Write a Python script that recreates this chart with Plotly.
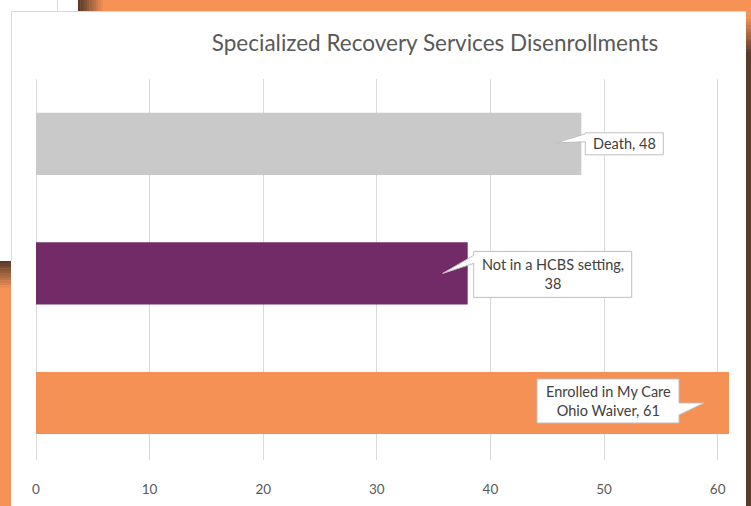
import plotly.graph_objects as go

# ---------------- data ----------------
categories = ["Enrolled in My Care Ohio Waiver", "Not in a HCBS setting", "Death"]
values = [61, 38, 48]
bar_colors = ["#F69155", "#722B66", "#C9C9C9"]
label_texts = ["Enrolled in My Care<br>Ohio Waiver, 61", "Not in a HCBS setting,<br>38", "Death, 48"]
x_ticks = [0, 10, 20, 30, 40, 50, 60]
title_text = "Specialized Recovery Services Disenrollments"

# ---------------- layout geometry ----------------
FIG_W, FIG_H = 751, 506
M_L, M_R, M_T, M_B = 36, 22, 79, 46
X_RANGE = [0, 61]
Y_RANGE = [-0.44, 2.5]
PW = FIG_W - M_L - M_R
PH = FIG_H - M_T - M_B
PX_X = PW / (X_RANGE[1] - X_RANGE[0])
PX_Y = PH / (Y_RANGE[1] - Y_RANGE[0])
FONT = "Lato, 'Open Sans', sans-serif"
TITLE_FONT = "Lato, 'Open Sans', sans-serif"

ypos = list(range(len(categories)))

fig = go.Figure(go.Bar(
    x=values, y=ypos, orientation="h",
    marker=dict(color=bar_colors, line=dict(width=0)),
    width=0.48, hoverinfo="skip", showlegend=False,
))

# ---------------- callouts (pixel offsets from bar end, y pointing down) ----------------
callout_geom = [
    dict(box=(-192, -50, -24, 20), tip=(-25, 0), base=[(-50, 0), (-50, 12)], side="right", text=(-121, -2)),
    dict(box=(6, 164, -22, 24), tip=(-25, 0), base=[(6, -18), (6, -10)], side="left", text=(85, 1)),
    dict(box=(4, 82, -11, 11), tip=(-25, -1), base=[(4, -10), (4, -2)], side="left", text=(43, 0)),
]

shapes = []
annotations = []


def to_data(v, c, dx, dy):
    return v + dx / PX_X, c - dy / PX_Y


for v, c, txt, g in zip(values, ypos, label_texts, callout_geom):
    L, R, T, B = g["box"]
    if g["side"] == "left":
        pts = [(L, T), (R, T), (R, B), (L, B), g["base"][1], g["tip"], g["base"][0]]
    else:
        pts = [(L, T), (R, T), g["base"][0], g["tip"], g["base"][1], (R, B), (L, B)]
    dpts = [to_data(v, c, dx, dy) for dx, dy in pts]
    path = "M " + " L ".join(f"{x:.4f},{y:.4f}" for x, y in dpts) + " Z"
    shapes.append(dict(type="path", path=path, xref="x", yref="y",
                       fillcolor="white", line=dict(color="#BFBFBF", width=1), layer="above"))
    annotations.append(dict(x=v, y=c, xref="x", yref="y", text=txt, showarrow=False,
                            xshift=g["text"][0], yshift=-g["text"][1], align="center",
                            font=dict(family=FONT, size=14.5, color="#404040")))


# ---------------- decorative frame ----------------
def pxx(px):
    return (px - M_L) / PW


def pxy(py):
    return (FIG_H - M_B - py) / PH


def mix(c1, c2, t):
    a = [int(c1[i:i + 2], 16) for i in (1, 3, 5)]
    b = [int(c2[i:i + 2], 16) for i in (1, 3, 5)]
    return "#" + "".join(f"{round(a[i] + (b[i] - a[i]) * t):02X}" for i in range(3))


def rect(x0, y0, x1, y1, color):
    shapes.append(dict(type="rect", xref="paper", yref="paper",
                       x0=pxx(x0), x1=pxx(x1), y0=pxy(y0), y1=pxy(y1),
                       fillcolor=color, line=dict(width=0), layer="below"))


BROWN = "#5A3A29"
ORANGE = "#F79257"
# top band
rect(104, 0, 751, 11, ORANGE)
n = 12
for i in range(n):
    x0 = 78 + i * (27 / n)
    rect(x0, 0, x0 + 27 / n + 0.5, 11, mix(BROWN, ORANGE, i / (n - 1)))
# right strip
rect(746, 55, 751, 506, BROWN)
for i in range(n):
    y0 = 15 + i * (40 / n)
    rect(746, y0, 751, y0 + 40 / n + 0.5, mix(ORANGE, BROWN, i / (n - 1)))
rect(746, 0, 751, 15, ORANGE)
# left strip
rect(0, 290, 11, 506, ORANGE)
for i in range(n):
    y0 = 261 + i * (29 / n)
    rect(0, y0, 11, y0 + 29 / n + 0.5, mix(BROWN, ORANGE, i / (n - 1)))
# panel border lines
for (x0, y0, x1, y1) in [(11.5, 11.5, 746, 11.5), (11.5, 11.5, 11.5, 261), (57.5, 0, 57.5, 11)]:
    shapes.append(dict(type="line", xref="paper", yref="paper",
                       x0=pxx(x0), x1=pxx(x1), y0=pxy(y0), y1=pxy(y1),
                       line=dict(color="#D9D9D9", width=1), layer="below"))

fig.update_layout(
    width=FIG_W, height=FIG_H,
    margin=dict(l=M_L, r=M_R, t=M_T, b=M_B, pad=0, autoexpand=False),
    paper_bgcolor="white", plot_bgcolor="white",
    title=dict(text=title_text, x=435 / FIG_W, xref="container", xanchor="center",
               y=1 - 43 / FIG_H, yref="container", yanchor="middle",
               font=dict(family=TITLE_FONT, size=22.5, color="#595959")),
    xaxis=dict(range=X_RANGE, tickvals=x_ticks, showgrid=True, gridcolor="#D9D9D9", gridwidth=1,
               zeroline=True, zerolinecolor="#D9D9D9", zerolinewidth=1, showline=False,
               ticks="", ticklabelstandoff=19, automargin=False,
               tickfont=dict(family=FONT, size=13.5, color="#595959"), fixedrange=True),
    yaxis=dict(range=Y_RANGE, showticklabels=False, showgrid=False, zeroline=False,
               showline=False, ticks="", fixedrange=True, automargin=False),
    shapes=shapes, annotations=annotations, showlegend=False,
)

fig.write_html(
    "out.html",
    config={"displayModeBar": False},
    post_script="document.body.style.margin='0';document.body.style.overflow='hidden';",
)
